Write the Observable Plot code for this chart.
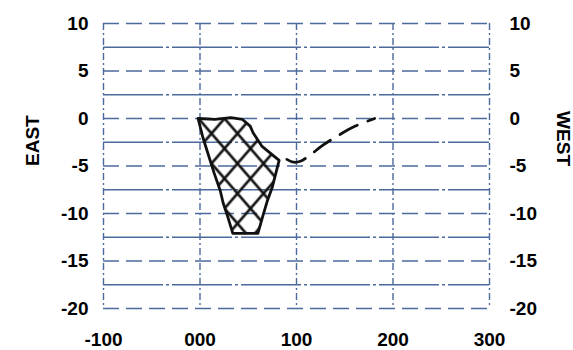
<!DOCTYPE html>
<html><head><meta charset="utf-8">
<script src="https://cdn.jsdelivr.net/npm/d3@7"></script>
<script src="https://cdn.jsdelivr.net/npm/@observablehq/plot@0.6"></script>
<style>body{margin:0;background:#fff;}</style>
</head><body><div id="chart"></div>
<script>
const xTicks = [-100, 0, 100, 200, 300];
const xTickLabels = ["-100", "000", "100", "200", "300"];
const yTicks = [10, 5, 0, -5, -10, -15, -20];
const yTickLabels = ["10", "5", "0", "-5", "-10", "-15", "-20"];
const yHalfGrid = [7.5, 2.5, -2.5, -7.5, -12.5, -17.5];
const outlineX = [-2, 15.5, 32, 44, 52, 55, 64, 82, 75, 70, 65, 60, 34, 28, 24, 21, 14.5, 3, -2];
const outlineY = [0, -0.1, 0.1, -0.1, -0.8, -1.5, -2.9, -4.4, -7.2, -8.6, -10.3, -12.1, -12.1, -10.1, -8.9, -7.6, -5.7, -2, 0];
const trackX = [90, 97, 104, 116, 126, 148, 161, 181];
const trackY = [-4.3, -4.6, -4.5, -3.7, -2.9, -1.5, -0.8, 0];
const leftTitle = "EAST";
const rightTitle = "WEST";

const outline = outlineX.map((x, i) => ({x, y: outlineY[i]}));
const track = trackX.map((x, i) => ({x, y: trackY[i]}));
const grid = "#4d6a9c";
const xFmt = d => xTickLabels[xTicks.indexOf(d)];
const yFmt = d => yTickLabels[yTicks.indexOf(d)];

const plot = Plot.plot({
  width: 573, height: 350,
  marginLeft: 103, marginRight: 84, marginTop: 23, marginBottom: 42,
  x: {domain: [-100, 300]},
  y: {domain: [-20, 10]},
  style: {fontFamily: "'Liberation Sans', Arial, sans-serif", fontSize: "19px", fontWeight: "bold", color: "#000", background: "#fff"},
  marks: [
    Plot.ruleY(yHalfGrid, {stroke: grid, strokeWidth: 1.6, strokeDasharray: "60,3,3,3"}),
    Plot.ruleY(yTicks, {stroke: grid, strokeWidth: 1.6, strokeDasharray: "16,7"}),
    Plot.ruleX(xTicks, {stroke: grid, strokeWidth: 1.4, strokeDasharray: "7,3,2,3"}),
    Plot.line(outline, {x: "x", y: "y", fill: "url(#xhatch)", stroke: "none"}),
    Plot.line(outline, {x: "x", y: "y", stroke: "#111", strokeWidth: 2.8, strokeLinejoin: "round"}),
    Plot.line(track, {x: "x", y: "y", stroke: "#111", strokeWidth: 2.8, strokeDasharray: "20,11", curve: "catmull-rom"}),
    Plot.axisY({anchor: "left", ticks: yTicks, tickFormat: yFmt, tickSize: 0, tickPadding: 15, label: null}),
    Plot.axisY({anchor: "right", ticks: yTicks, tickFormat: yFmt, tickSize: 0, tickPadding: 20, label: null}),
    Plot.axisX({anchor: "bottom", ticks: xTicks, tickFormat: xFmt, tickSize: 0, tickPadding: 24, label: null}),
    Plot.text([leftTitle], {frameAnchor: "left", dx: -71, rotate: -90, fontSize: 19, fontWeight: "bold"}),
    Plot.text([rightTitle], {frameAnchor: "right", dx: 74, rotate: 90, fontSize: 19, fontWeight: "bold"})
  ]
});

const defs = d3.select(plot).insert("defs", ":first-child");
const pat = defs.append("pattern").attr("id", "xhatch")
  .attr("patternUnits", "userSpaceOnUse")
  .attr("width", 26).attr("height", 30).attr("x", 198).attr("y", 118);
pat.append("path").attr("d", "M0,0L26,30M26,0L0,30")
  .attr("stroke", "#111").attr("stroke-width", 2.6).attr("fill", "none");

document.getElementById("chart").appendChild(plot);
</script>
</body></html>
